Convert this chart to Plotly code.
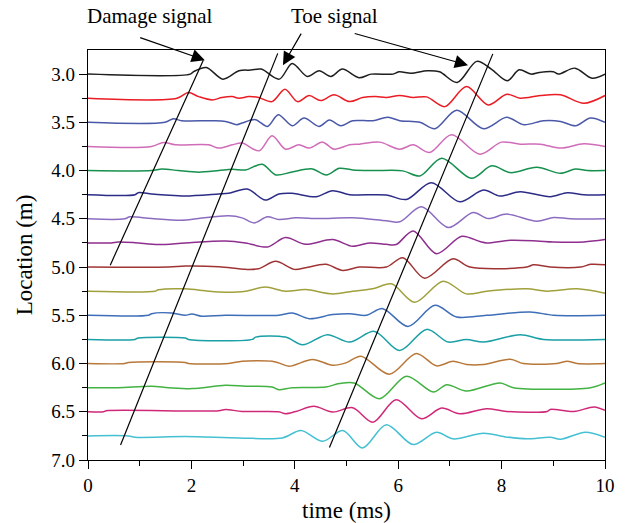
import plotly.graph_objects as go

# ---------------- data ----------------
locations = [3.0, 3.25, 3.5, 3.75, 4.0, 4.25, 4.5, 4.75,
             5.0, 5.25, 5.5, 5.75, 6.0, 6.25, 6.5, 6.75]

t_300 = [0, 1.98, 2.05, 2.29, 2.61, 2.92, 3.15, 3.35, 3.70, 3.95, 4.24, 4.47, 4.70, 4.92, 5.24, 5.48, 5.9, 6.02, 6.25, 6.56, 6.8, 7.14, 7.52, 7.80, 8.11, 8.34, 8.57, 8.73, 9.0, 9.1, 9.42, 9.75, 10]
a_300 = [0, 0, 0.028, 0.069, -0.052, 0.035, 0.042, 0.052, -0.052, 0.111, -0.024, 0.035, -0.024, 0.052, -0.038, 0, 0, 0.024, 0.010, 0.035, 0.024, -0.087, 0.132, 0.052, -0.069, 0.045, 0, 0.017, 0.024, 0, 0.062, -0.042, 0]

t_325 = [0, 1.72, 1.94, 2.14, 2.40, 2.59, 2.79, 2.92, 3.11, 3.30, 3.56, 3.81, 4.05, 4.28, 4.50, 4.76, 5.06, 5.31, 5.57, 5.77, 6.03, 6.29, 6.55, 6.90, 7.32, 7.74, 8.10, 8.36, 8.75, 9.14, 9.59, 10]
a_325 = [0, 0, 0.059, 0.017, -0.017, 0.007, 0.017, 0, 0.017, 0.007, -0.035, 0.094, -0.035, 0.028, -0.024, 0.035, -0.035, 0.007, 0.017, 0.007, 0.028, 0.007, 0.014, -0.087, 0.121, -0.069, 0.042, 0, 0.028, 0.035, -0.052, 0.028]

t_350 = [0, 1.49, 1.65, 1.81, 2.4, 2.66, 2.88, 2.98, 3.24, 3.47, 3.68, 3.95, 4.18, 4.47, 4.67, 4.89, 5.12, 5.51, 5.80, 6.03, 6.42, 6.71, 7.13, 7.65, 8.10, 8.43, 8.81, 9.14, 9.43, 9.72, 10]
a_350 = [0, 0, 0.038, 0.017, 0.017, 0.010, -0.024, -0.007, 0.028, -0.042, 0.080, -0.035, 0.045, -0.042, 0.024, -0.035, 0.017, 0.017, 0.052, 0.017, 0, -0.066, 0.125, -0.066, 0.052, -0.024, 0.017, 0.010, -0.035, 0.045, 0]

t_375 = [0, 1.23, 1.46, 1.69, 2.33, 2.53, 2.79, 2.98, 3.31, 3.56, 3.82, 4.08, 4.28, 4.54, 4.76, 5.06, 5.25, 5.64, 6.03, 6.29, 6.61, 7.03, 7.58, 8.0, 8.36, 8.75, 9.14, 9.59, 10]
a_375 = [0, 0, 0.042, 0.017, 0.017, -0.017, 0.017, 0.035, -0.045, 0.111, -0.028, 0.017, -0.017, 0.045, -0.028, 0.017, 0.024, 0.045, -0.028, 0.017, -0.062, 0.121, -0.080, 0.045, 0.024, 0.024, -0.017, 0.028, 0]

t_400 = [0, 1.23, 1.43, 1.75, 2.14, 2.53, 2.79, 3.05, 3.37, 3.63, 3.95, 4.34, 4.61, 4.86, 5.12, 5.51, 6.09, 6.42, 6.84, 7.42, 7.81, 8.17, 8.68, 9.14, 9.43, 9.66, 10]
a_400 = [0, 0, 0.017, 0, -0.017, 0, 0.014, 0.007, 0.066, -0.045, -0.014, 0.017, -0.045, 0.024, 0.007, 0, -0.003, -0.056, 0.128, -0.080, 0.049, -0.021, 0.035, -0.028, 0.017, 0, 0]

t_425 = [0, 0.91, 0.97, 1.23, 1.49, 1.88, 2.53, 2.72, 3.08, 3.43, 3.69, 3.95, 4.41, 4.73, 5.06, 5.77, 6.16, 6.64, 7.19, 7.65, 7.97, 8.36, 8.94, 9.27, 9.59, 10]
a_425 = [0, 0, 0.021, 0.007, -0.003, -0.014, 0.007, 0.014, 0.059, -0.056, 0.007, 0.014, -0.021, 0.042, 0, -0.003, -0.049, 0.125, -0.073, 0.049, -0.014, 0.031, -0.021, 0.021, 0, 0]

t_450 = [0, 0.71, 0.81, 1.23, 1.81, 2.14, 2.72, 2.98, 3.21, 3.47, 3.69, 4.02, 4.47, 5.12, 5.77, 6.03, 6.45, 6.97, 7.45, 7.74, 8.10, 8.68, 9.01, 9.33, 10]
a_450 = [0, 0, 0.021, 0.003, -0.014, 0.003, 0.031, 0.010, -0.042, 0.021, -0.007, 0.010, 0.003, 0.010, -0.021, -0.031, 0.125, -0.090, 0.066, 0.003, 0.049, -0.024, 0.014, 0, 0]

t_475 = [0, 0.45, 0.58, 0.91, 1.36, 1.88, 2.66, 3.05, 3.47, 3.82, 4.21, 4.73, 5.12, 5.44, 5.77, 5.96, 6.29, 6.74, 7.23, 7.58, 7.71, 8.17, 8.68, 9.0, 9.59, 10]
a_475 = [0, 0, 0.010, 0.003, -0.017, 0, 0.021, 0, -0.042, 0.056, -0.014, 0.035, -0.035, 0, -0.014, -0.017, 0.125, -0.111, 0.069, 0.014, 0, 0.028, 0.021, 0.010, 0.010, 0.035]

t_500 = [0, 1.56, 1.88, 2.53, 3.05, 3.30, 3.63, 3.99, 4.21, 4.60, 4.93, 5.25, 5.77, 6.09, 6.51, 7.06, 7.39, 8.49, 8.62, 8.94, 9.53, 9.72, 10]
a_500 = [0, 0, 0.010, 0.003, -0.024, -0.017, 0.059, -0.024, -0.007, 0.028, -0.035, 0, 0, 0.097, -0.115, 0.087, 0, 0, 0.024, 0, 0, 0.028, 0.024]

t_525 = [0, 1.30, 1.36, 1.88, 2.33, 2.66, 3.05, 3.43, 3.82, 4.21, 4.73, 5.12, 5.51, 5.87, 6.32, 6.87, 7.32, 7.71, 8.49, 8.88, 9.46, 10]
a_525 = [0, 0, 0.014, 0.024, 0, -0.010, 0, 0.042, 0, 0.017, -0.028, 0, 0.024, 0.076, -0.115, 0.104, -0.028, 0, 0.024, 0, 0.024, -0.021]

t_550 = [0, 1.17, 1.23, 1.62, 1.88, 2.01, 2.20, 2.66, 3.69, 3.95, 4.28, 4.73, 5.06, 5.38, 5.70, 6.19, 6.71, 7.13, 7.71, 8.55, 9.01, 10]
a_550 = [0, 0, 0.017, 0.024, 0, 0.014, -0.010, 0, 0, 0.024, -0.035, 0.007, 0.017, 0, 0.069, -0.115, 0.104, -0.017, 0, 0.035, 0, 0]

t_575 = [0, 0.91, 0.97, 1.88, 1.94, 3.18, 3.24, 3.82, 4.15, 4.63, 5.06, 5.54, 6.03, 6.55, 6.97, 7.32, 7.65, 8.36, 8.81, 10]
a_575 = [0, 0, 0.014, 0.014, 0, 0, 0.024, 0.024, -0.056, 0.049, -0.028, 0.083, -0.115, 0.104, -0.028, 0, -0.028, 0.049, 0, 0]

t_600 = [0, 0.71, 0.78, 1.88, 1.94, 2.72, 2.98, 3.56, 3.69, 3.89, 4.34, 4.73, 4.99, 5.28, 5.83, 6.35, 6.74, 7.06, 7.32, 7.65, 8.17, 8.42, 9.07, 9.27, 9.46, 10]
a_600 = [0, 0, 0.010, 0.010, 0, 0, 0.024, 0.024, 0.007, -0.028, 0.042, -0.017, 0.007, 0.076, -0.111, 0.104, -0.024, 0.024, -0.010, -0.010, 0.045, 0, 0, 0.024, 0, 0]

t_625 = [0, 0.58, 1.23, 1.56, 2.01, 2.66, 3.05, 3.56, 3.69, 3.95, 4.60, 4.86, 5.15, 5.64, 6.16, 6.68, 6.94, 7.32, 7.97, 8.23, 9.72, 10]
a_625 = [0, 0, 0.014, 0, -0.010, 0.024, 0.014, 0.007, -0.021, 0, 0.007, 0.042, 0.049, -0.115, 0.118, -0.045, 0.031, -0.035, 0.049, 0, 0, 0.049]

t_650 = [0, 0.3, 0.35, 2.53, 2.66, 2.98, 3.69, 3.82, 4.02, 4.37, 4.73, 5.12, 5.51, 5.96, 6.45, 6.84, 7.19, 7.71, 8.10, 8.88, 8.94, 9.40, 9.79, 10]
a_650 = [0, 0, 0.010, 0.010, 0.024, 0.003, 0, -0.021, 0.003, 0.056, -0.003, 0.042, -0.108, 0.125, -0.073, 0.038, -0.021, 0.031, 0.003, 0.003, 0.024, 0.003, 0.049, 0.014]

t_675 = [0, 0.78, 0.91, 1.88, 2.92, 3.76, 4.12, 4.54, 4.93, 5.31, 5.77, 6.29, 6.74, 7.06, 7.65, 8.04, 8.49, 8.94, 9.14, 9.62, 10]
a_675 = [0, 0, -0.014, -0.007, -0.021, -0.021, 0.056, -0.056, 0.056, -0.125, 0.115, -0.090, 0.038, -0.031, 0.028, -0.007, -0.031, -0.014, -0.035, 0.038, -0.014]

times = [t_300, t_325, t_350, t_375, t_400, t_425, t_450, t_475,
         t_500, t_525, t_550, t_575, t_600, t_625, t_650, t_675]
amps = [a_300, a_325, a_350, a_375, a_400, a_425, a_450, a_475,
        a_500, a_525, a_550, a_575, a_600, a_625, a_650, a_675]

colors = ["#1e1e1e", "#ea1c24", "#4a58a8", "#d06cb8", "#16904e", "#2c2c86",
          "#8c6cc0", "#8e2e8e", "#a03434", "#a0a03c", "#3e6eb8", "#1aa0a6",
          "#b8783a", "#42b242", "#d02878", "#44c0d2"]

# slanted guide lines (time, location)
damage_line_t = [0.43, 2.23]
damage_line_y = [4.98, 2.855]
toe_line1_t = [0.63, 3.67]
toe_line1_y = [6.845, 2.785]
toe_line2_t = [4.67, 7.83]
toe_line2_y = [6.87, 2.79]

label_texts = ["Damage signal", "Toe signal"]

FONT = "Liberation Serif"

fig = go.Figure()
for loc, tt, aa, c in zip(locations, times, amps, colors):
    fig.add_trace(go.Scatter(
        x=tt, y=[loc - a for a in aa], mode="lines",
        line=dict(color=c, width=1.5, shape="spline", smoothing=0.9),
        showlegend=False, hoverinfo="skip"))

for lt, ly in [(damage_line_t, damage_line_y), (toe_line1_t, toe_line1_y),
               (toe_line2_t, toe_line2_y)]:
    fig.add_trace(go.Scatter(x=lt, y=ly, mode="lines",
                             line=dict(color="black", width=1.2),
                             showlegend=False, hoverinfo="skip"))

# text labels above the plot (paper coords)
fig.add_annotation(x=0.12, y=1.083, xref="paper", yref="paper", text=label_texts[0],
                   xanchor="center", yanchor="middle", showarrow=False,
                   font=dict(family=FONT, size=21, color="black"))
fig.add_annotation(x=0.476, y=1.083, xref="paper", yref="paper", text=label_texts[1],
                   xanchor="center", yanchor="middle", showarrow=False,
                   font=dict(family=FONT, size=21, color="black"))
arrows = [((2.26, 2.855), (0.98, 2.617)),
          ((3.77, 2.907), (4.14, 2.565)),
          ((7.35, 2.907), (5.13, 2.575))]
for (hx, hy), (tx, ty) in arrows:
    fig.add_annotation(x=hx, y=hy, ax=tx, ay=ty, xref="x", yref="y",
                       axref="x", ayref="y", text="", showarrow=True,
                       arrowhead=2, arrowsize=2.2, arrowwidth=1.2,
                       arrowcolor="black", standoff=0)

fig.update_layout(
    width=626, height=523,
    margin=dict(l=88, r=21, t=50, b=63),
    paper_bgcolor="white", plot_bgcolor="white",
    font=dict(family=FONT, size=19, color="black"),
    xaxis=dict(range=[0, 10], tickmode="array", tickvals=[0, 2, 4, 6, 8, 10],
               ticks="outside", ticklen=8, tickwidth=1.2, tickcolor="black",
               minor=dict(tickvals=[1, 3, 5, 7, 9], ticks="outside", ticklen=5,
                          tickwidth=1.2, tickcolor="black"),
               showline=True, linecolor="black", linewidth=1.3, mirror=True,
               showgrid=False, zeroline=False, automargin=False,
               title=dict(text="time (ms)", standoff=6)),
    yaxis=dict(range=[7.0, 2.75], tickmode="array",
               tickvals=[3.0, 3.5, 4.0, 4.5, 5.0, 5.5, 6.0, 6.5, 7.0],
               ticktext=["3.0", "3.5", "4.0", "4.5", "5.0", "5.5", "6.0", "6.5", "7.0"],
               ticks="outside", ticklen=8, tickwidth=1.2, tickcolor="black",
               minor=dict(tickvals=[3.25, 3.75, 4.25, 4.75, 5.25, 5.75, 6.25, 6.75],
                          ticks="outside", ticklen=5, tickwidth=1.2, tickcolor="black"),
               showline=True, linecolor="black", linewidth=1.3, mirror=True,
               showgrid=False, zeroline=False, automargin=False,
               title=dict(text="Location (m)", standoff=12)),
)

fig.write_html("out.html")
